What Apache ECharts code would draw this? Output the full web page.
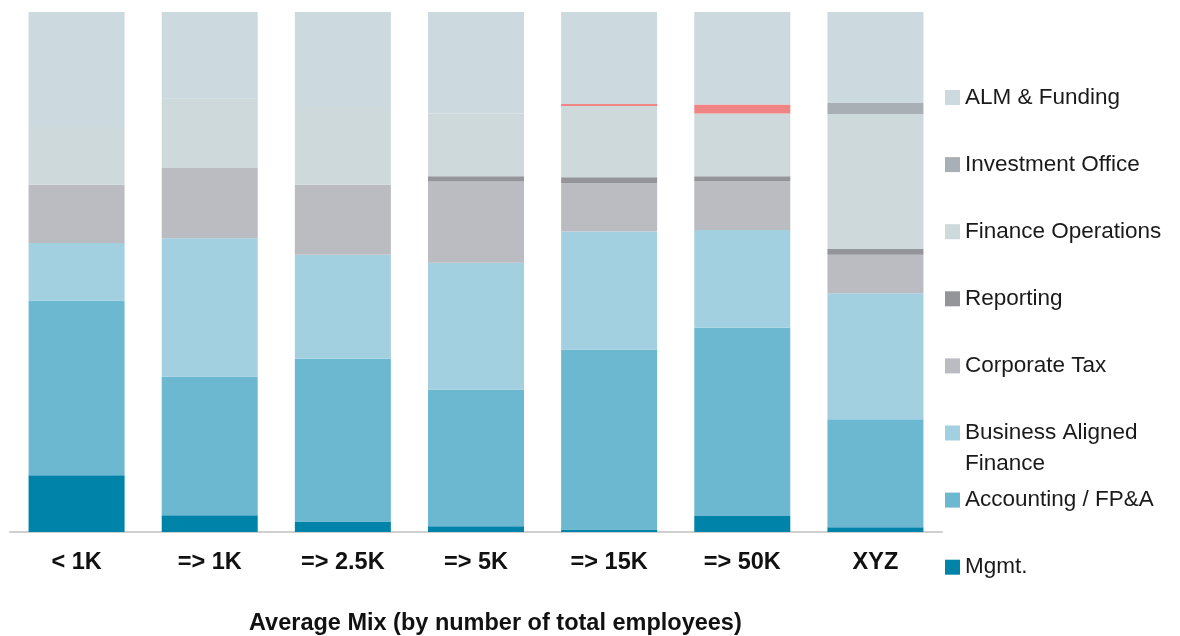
<!DOCTYPE html>
<html>
<head>
<meta charset="utf-8">
<script src="https://cdn.jsdelivr.net/npm/echarts@6.0.0/dist/echarts.min.js"></script>
<style>
html,body{margin:0;padding:0;background:#fff;}
#chart{width:1180px;height:636px;}
</style>
</head>
<body>
<div id="chart"></div>
<script>
// Categories (x axis)
const categories = ['< 1K', '=> 1K', '=> 2.5K', '=> 5K', '=> 15K', '=> 50K', 'XYZ'];

// Series values (% of total), bottom to top of each stack
const mgmt        = [10.9, 3.2, 2.0, 1.1, 0.5, 3.1, 0.9];
const accounting  = [33.6, 26.7, 31.3, 26.3, 34.6, 36.2, 20.8];
const businessAligned = [11.1, 26.6, 20.0, 24.4, 22.7, 18.8, 24.2];
const corporateTax = [11.2, 13.5, 13.5, 15.6, 9.3, 9.4, 7.4];
const reporting   = [0, 0, 0, 1.0, 1.1, 0.9, 1.1];
const financeOps  = [11.1, 13.4, 15.1, 12.1, 13.7, 12.1, 26.0];
const other       = [0, 0, 0, 0, 0.4, 1.7, 0];
const investment  = [0, 0, 0, 0, 0, 0, 2.1];
const almFunding  = [22.1, 16.6, 18.1, 19.5, 17.7, 17.8, 17.5];

// Series names (legend labels)
const names = {
  alm: 'ALM & Funding',
  inv: 'Investment Office',
  fin: 'Finance Operations',
  rep: 'Reporting',
  tax: 'Corporate Tax',
  baf: 'Business Aligned Finance',
  acc: 'Accounting / FP&A',
  mgm: 'Mgmt.',
  oth: 'Other'
};
const titleText = 'Average Mix (by number of total employees)';

const colors = {
  mgm: '#0083a9', acc: '#6db8d1', baf: '#a3d0e1', tax: '#bbbcc1',
  rep: '#939598', fin: '#cdd9db', oth: '#f08383', inv: '#a9b0b5', alm: '#ccd9de'
};

const stackOrder = [
  ['mgm', mgmt], ['acc', accounting], ['baf', businessAligned], ['tax', corporateTax],
  ['rep', reporting], ['fin', financeOps], ['oth', other], ['inv', investment], ['alm', almFunding]
];

const series = stackOrder.map(([k, vals]) => ({
  name: names[k],
  type: 'bar',
  stack: 'total',
  barWidth: 96,
  data: vals,
  itemStyle: { color: colors[k] },
  emphasis: { disabled: true }
}));

// Legend items top to bottom with their icon centre y
const legendOrder = ['alm', 'inv', 'fin', 'rep', 'tax', 'baf', 'acc', 'mgm'];
const legendCentersStart = 97.5, legendStep = 67.1;
const font = 'Liberation Sans, Arial, Helvetica, sans-serif';
const legendSize = 22.5;
const legends = legendOrder.map((k, i) => {
  const c = legendCentersStart + i * legendStep;
  const multi = (k === 'baf');
  return {
    data: [names[k]],
    left: 945,
    top: multi ? c - 46.5 : c - 11.5,
    orient: 'vertical',
    padding: 0,
    itemWidth: 15,
    itemHeight: 15,
    icon: 'rect',
    selectedMode: false,
    formatter: multi ? ' \nBusiness Aligned\nFinance' : undefined,
    textStyle: {
      fontSize: legendSize, fontFamily: font, color: '#1a1a1a', lineHeight: multi ? 31 : 23
    }
  };
});

const chart = echarts.init(document.getElementById('chart'), null, { renderer: 'canvas' });
chart.setOption({
  animation: false,
  backgroundColor: '#ffffff',
  title: {
    text: titleText,
    left: 249,
    top: 612,
    padding: 0,
    textStyle: { fontSize: 23.5, fontWeight: 'bold', color: '#111', fontFamily: font, lineHeight: 24 }
  },
  legend: legends,
  grid: { left: 10, right: 238, top: 12, bottom: 104 },
  xAxis: {
    type: 'category',
    data: categories,
    axisTick: { show: false },
    axisLine: { lineStyle: { color: '#d0d0d0', width: 2 } },
    axisLabel: {
      margin: 19, fontSize: 23.5, fontWeight: 'bold', color: '#111', fontFamily: font, lineHeight: 24
    }
  },
  yAxis: {
    type: 'value', min: 0, max: 100, show: false,
    splitLine: { show: false }
  },
  series: series
});
</script>
</body>
</html>
